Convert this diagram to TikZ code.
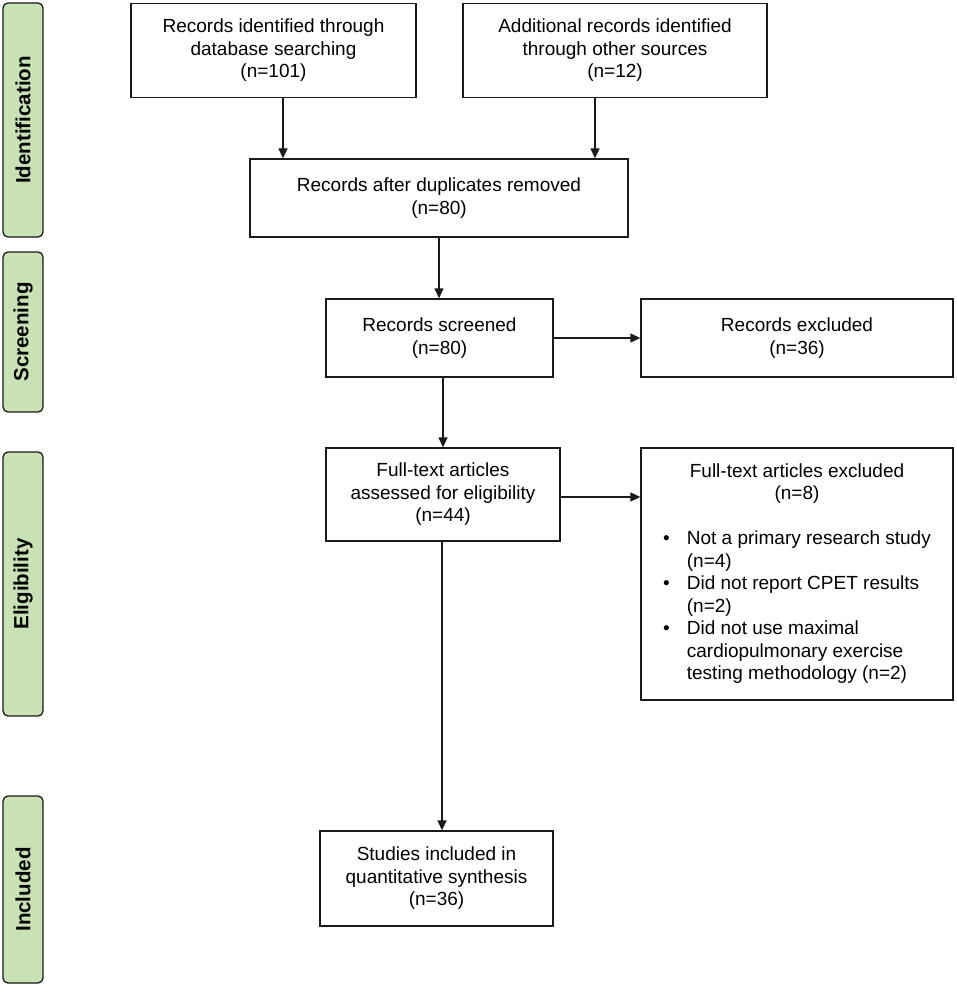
\documentclass[tikz,border=0pt]{standalone}
\usepackage{fontspec}
\setmainfont{Liberation Sans}
\usetikzlibrary{arrows.meta,calc}
\definecolor{barfill}{HTML}{C8E2B6}
\definecolor{lineclr}{HTML}{1A1A1A}
\begin{document}
\begin{tikzpicture}[x=1pt,y=-1pt,
  box/.style={draw=lineclr, line width=1.3pt, inner sep=0pt, align=center,
    font=\fontsize{19}{22.5}\selectfont},
  listbox/.style={draw=lineclr, line width=1.3pt, inner sep=0pt,
    font=\fontsize{19}{22.5}\selectfont},
  bar/.style={draw=lineclr, line width=1.3pt, fill=barfill, rounded corners=5pt,
    inner sep=0pt, rotate=90, minimum height=40pt,
    font=\fontsize{20.5}{24}\selectfont\bfseries},
  arr/.style={draw=lineclr, line width=1.3pt, -{Triangle[length=10pt,width=9pt]}}]
\useasboundingbox (0,0) rectangle (957,987);

% phase bars
\node[bar, minimum width=234pt] (pid) at (23,120) {Identification};
\node[bar, minimum width=160pt] (psc) at (23,332) {Screening};
\node[bar, minimum width=264pt] (pel) at (23,584) {Eligibility};
\node[bar, minimum width=187pt] (pin) at (23,889.5) {Included};

% boxes
\node[box, minimum width=285pt, minimum height=94pt] (b1) at (273.5,50.5)
  {Records identified through\\database searching\\(n=101)};
\node[box, minimum width=304pt, minimum height=94pt] (b2) at (615,50.5)
  {Additional records identified\\through other sources\\(n=12)};
\node[box, minimum width=378pt, minimum height=78pt] (b3) at (439,198)
  {Records after duplicates removed\\(n=80)};
\node[box, minimum width=227pt, minimum height=78pt] (scr) at (439.5,338)
  {Records screened\\(n=80)};
\node[box, minimum width=312pt, minimum height=78pt] (exc) at (797,338)
  {Records excluded\\(n=36)};
\node[box, minimum width=234pt, minimum height=93pt] (ft) at (443,494.5)
  {Full-text articles\\assessed for eligibility\\(n=44)};
\node[listbox, minimum width=312pt, minimum height=252pt] (ftex) at (797,574)
  {\begin{tabular}{@{}l@{\hspace{17pt}}l@{}}
   \multicolumn{2}{c}{Full-text articles excluded}\\
   \multicolumn{2}{c}{(n=8)}\\
   \\
   \textbullet & Not a primary research study\\
    & (n=4)\\
   \textbullet & Did not report CPET results\\
    & (n=2)\\
   \textbullet & Did not use maximal\\
    & cardiopulmonary exercise\\
    & testing methodology (n=2)
   \end{tabular}};
\node[box, minimum width=233pt, minimum height=95pt] (st) at (436.5,878.5)
  {Studies included in\\quantitative synthesis\\(n=36)};

% connectors
\draw[arr] ([xshift=9.5pt]b1.south) -- ([xshift=9.5pt]b1.south |- b3.north);
\draw[arr] ([xshift=-20pt]b2.south) -- ([xshift=-20pt]b2.south |- b3.north);
\draw[arr] (b3.south) -- (b3.south |- scr.north);
\draw[arr] (scr.east) -- (exc.west);
\draw[arr] (ft.north |- scr.south) -- (ft.north);
\draw[arr] ([yshift=-2.5pt]ft.east) -- ([yshift=-2.5pt]ft.east -| ftex.west);
\draw[arr] ([xshift=-1pt]ft.south) -- ([xshift=-1pt]ft.south |- st.north);
\end{tikzpicture}
\end{document}
